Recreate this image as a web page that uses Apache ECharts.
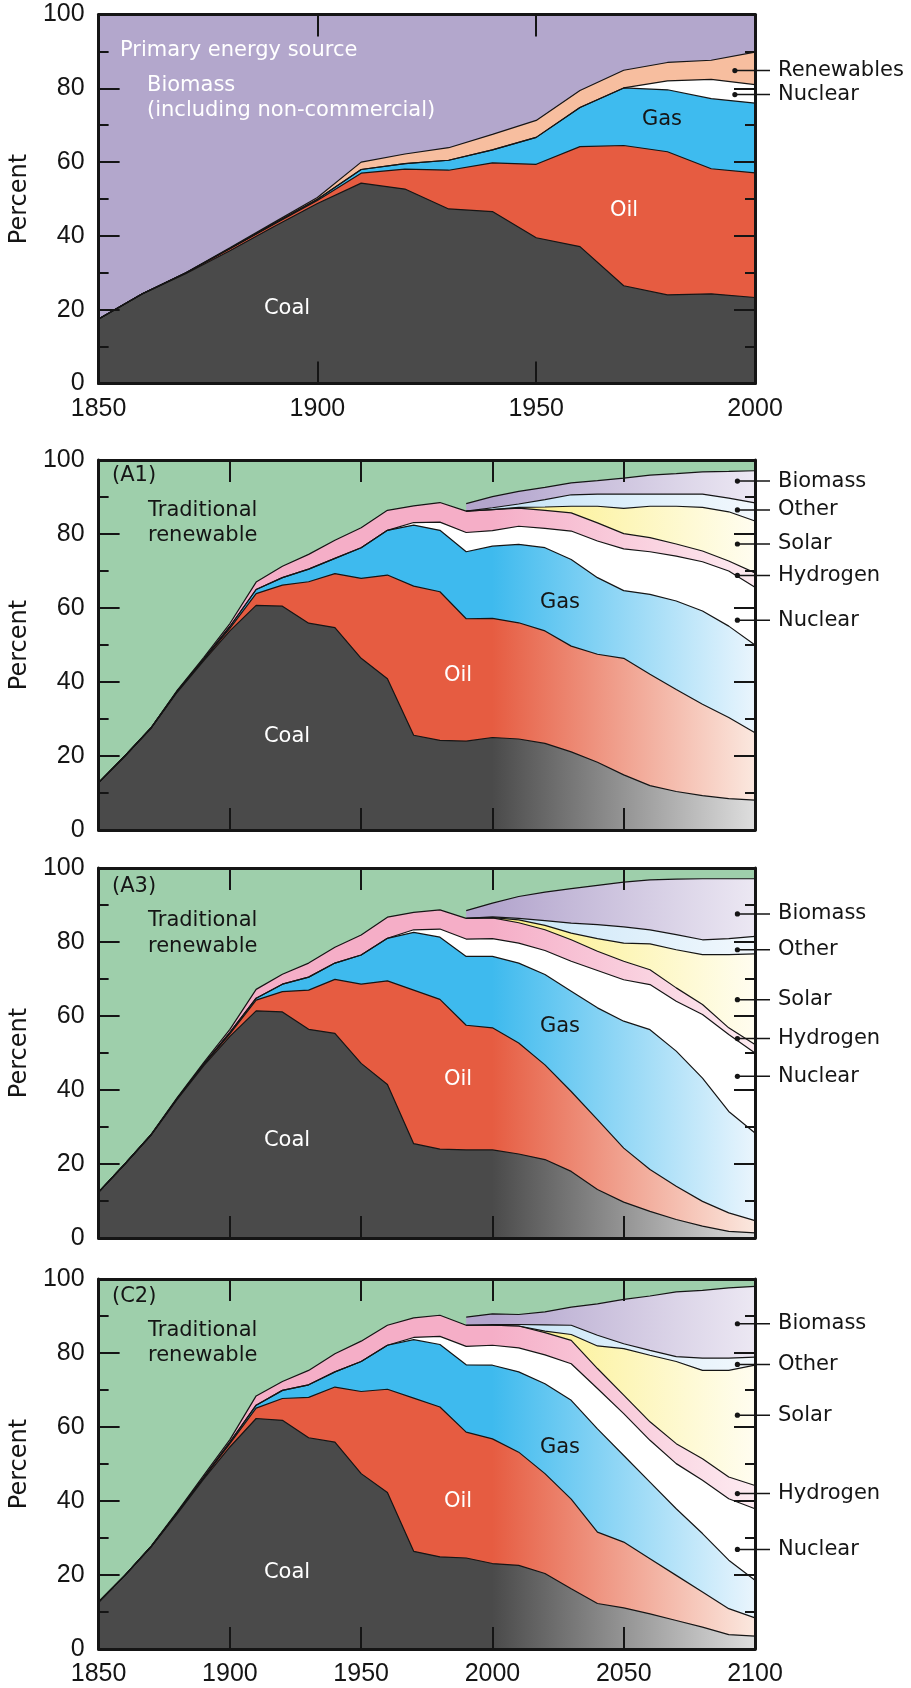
<!DOCTYPE html>
<html>
<head>
<meta charset="utf-8">
<script src="https://cdn.jsdelivr.net/npm/echarts@6/dist/echarts.min.js"></script>
<style>
html,body{margin:0;padding:0;background:#fff;}
#chart{width:911px;height:1688px;}
</style>
</head>
<body>
<div id="chart"></div>
<script>
// ---- panel 1: historical shares 1850-2000 (percent of primary energy) ----
var p1Years = [1850,1860,1870,1880,1890,1900,1910,1920,1930,1940,1950,1960,1970,1980,1990,2000];
var p1Coal = [17.5,24.3,29.8,36.0,42.5,48.8,54.3,52.7,47.3,46.6,39.5,37.1,26.5,24.0,24.3,23.3];
var p1Oil = [0,0,0.2,0.5,0.6,0.8,2.7,5.4,10.5,13.2,19.9,27.1,38.0,38.8,33.9,33.8];
var p1Gas = [0,0,0,0.1,0.2,0.3,1.0,1.5,2.7,3.5,7.3,10.6,15.6,16.8,19.0,18.9];
var p1Nuclear = [0,0,0,0,0,0,0,0,0,0,0,0,0,2.4,5.2,5.0];
var p1Renewables = [0,0,0.1,0.2,0.3,0.5,2.0,2.6,3.4,4.2,4.6,4.6,4.8,5.0,5.2,8.8];
// biomass is the remainder up to 100

// ---- scenario panels 1850-2100 ----
var scnYears = [1850,1860,1870,1880,1890,1900,1910,1920,1930,1940,1950,1960,1970,1980,1990,
                2000,2010,2020,2030,2040,2050,2060,2070,2080,2090,2100];
var N = null;

var a1Coal = [12.8,20.0,27.5,37.3,45.7,53.8,60.7,60.5,55.9,54.7,46.4,40.9,25.6,24.2,24.0,25.0,24.6,23.4,21.1,18.3,14.9,12.0,10.4,9.3,8.5,8.1];
var a1Oil = [0,0,0.1,0.2,0.3,0.7,3.2,5.7,11.2,14.6,21.6,28.0,40.3,40.2,33.1,32.2,31.4,30.4,28.6,29.2,31.5,30.1,27.6,24.7,21.9,18.2];
var a1Gas = [0,0,0,0.1,0.2,0.5,1.1,2.0,3.4,4.1,8.3,12.1,16.5,16.6,18.1,19.5,21.2,22.5,23.4,20.7,18.3,21.6,23.9,25.2,24.7,23.7];
var a1Nuclear = [0,0,0,0,0,0,0,0,0,0,0,0,0.7,2.2,5.2,4.2,4.9,5.2,7.7,9.9,11.3,11.5,12.1,13.3,14.9,15.6];
var a1Hydrogen = [0,0,0.1,0.2,0.4,0.8,2.0,3.1,4.0,4.9,5.4,5.4,4.5,5.3,5.8,5.7,4.9,4.9,4.9,4.9,4.1,3.8,3.3,2.9,2.7,3.9];
var a1Solar = [N,N,N,N,N,N,N,N,N,N,N,N,N,N,0,0,0.2,0.9,1.8,4.5,6.8,8.5,10.2,11.8,13.3,14.0];
var a1Other = [N,N,N,N,N,N,N,N,N,N,N,N,N,N,0,0.5,0.9,2.0,3.1,3.3,3.9,3.3,3.3,3.6,3.7,4.9];
var a1Biomass = [N,N,N,N,N,N,N,N,N,N,N,N,N,N,2.0,3.0,3.4,3.3,3.2,3.6,4.3,5.1,5.5,6.0,7.2,8.7];

var a3Coal = [12.4,20.0,27.8,37.5,46.5,54.5,61.4,61.1,56.4,55.3,47.2,41.5,25.5,24.0,23.8,23.8,22.7,21.2,18.0,13.1,9.7,7.2,5.0,3.2,1.8,1.4];
var a3Oil = [0,0,0.1,0.2,0.3,0.7,2.9,5.5,10.6,14.6,21.4,28.0,41.5,40.5,33.7,33.0,30.0,25.6,21.6,18.9,14.6,11.3,9.0,6.7,5.0,3.3];
var a3Gas = [0,0,0,0.1,0.2,0.4,0.5,2.0,3.5,4.4,7.9,11.5,15.6,16.8,18.6,19.3,21.6,24.4,27.1,30.2,34.3,37.8,36.5,33.3,27.4,23.7];
var a3Nuclear = [0,0,0,0,0,0,0,0,0,0,0,0,0.7,2.2,4.7,4.8,5.4,6.5,8.1,10.1,11.2,12.2,13.5,17.2,20.8,21.6];
var a3Hydrogen = [0,0,0.1,0.2,0.4,0.8,2.4,2.7,3.8,4.3,5.4,5.7,4.7,5.2,5.6,5.6,5.5,5.6,5.8,5.2,5.0,4.0,3.6,2.7,1.8,2.3];
var a3Solar = [N,N,N,N,N,N,N,N,N,N,N,N,N,N,0,0.1,0.8,1.2,1.8,3.4,4.9,7.0,10.3,13.5,19.8,24.5];
var a3Other = [N,N,N,N,N,N,N,N,N,N,N,N,N,N,0,0.2,0.4,1.3,2.7,3.8,4.4,3.8,4.1,4.0,4.3,4.7];
var a3Biomass = [N,N,N,N,N,N,N,N,N,N,N,N,N,N,2.1,3.7,5.9,7.7,9.3,10.6,12.1,13.5,15.0,16.5,16.2,15.6];

var c2Coal = [12.7,19.9,27.6,36.6,45.9,54.6,62.3,61.8,57.1,55.9,47.4,42.3,26.4,24.9,24.6,23.1,22.6,20.4,16.3,12.3,11.1,9.5,7.7,5.9,3.9,3.5];
var c2Oil = [0,0,0.1,0.2,0.3,0.9,2.8,5.9,10.9,14.9,22.2,27.9,41.4,40.5,34.0,33.7,30.6,27.0,24.2,19.3,17.8,14.9,12.2,9.5,7.0,4.9];
var c2Gas = [0,0,0,0.1,0.2,0.4,0.8,2.2,3.4,4.1,8.1,11.9,15.8,16.9,18.2,19.9,21.7,24.3,26.7,27.9,23.4,20.7,18.0,15.8,13.1,10.2];
var c2Nuclear = [0,0,0,0,0,0,0,0,0,0,0,0,0.6,2.2,5.0,5.4,6.5,7.8,9.9,10.9,11.3,11.3,12.2,14.4,16.6,19.3];
var c2Hydrogen = [0,0,0.1,0.3,0.5,0.7,2.5,2.4,3.9,4.9,5.5,5.4,5.3,5.7,5.7,5.4,5.9,6.0,6.3,5.4,5.0,5.0,5.4,5.8,5.9,6.3];
var c2Solar = [N,N,N,N,N,N,N,N,N,N,N,N,N,N,0,0,0,0.4,1.6,6.1,12.6,18.0,22.2,23.9,28.8,32.5];
var c2Other = [N,N,N,N,N,N,N,N,N,N,N,N,N,N,0,0.2,0.4,1.7,2.5,2.9,1.3,1.3,1.3,3.3,3.3,2.2];
var c2Biomass = [N,N,N,N,N,N,N,N,N,N,N,N,N,N,2.2,2.9,2.7,3.5,4.9,8.5,12.0,14.7,17.5,18.3,19.0,19.1];
// traditional renewable is the remainder up to 100

// ---- right-hand pointer labels (year, percent of the dot) ----
var p1LabelNames = ['Renewables', 'Nuclear'];
var p1LabelYear = 1995.4;
var p1LabelAt = [84.8, 78.3];
var scnLabelNames = ['Biomass', 'Other', 'Solar', 'Hydrogen', 'Nuclear'];
var scnLabelYear = 2093.3;
var a1LabelAt = [94.3, 86.5, 77.3, 68.8, 56.7];
var a3LabelAt = [87.6, 77.9, 64.4, 53.9, 43.7];
var c2LabelAt = [87.9, 76.9, 63.2, 42.0, 26.9];

var GRID_LEFT = 98, GRID_W = 657;
var X2000 = GRID_LEFT + GRID_W * (2000 - 1850) / 250;
var X2100 = GRID_LEFT + GRID_W;
var INK = '#151515';
var TEXT_FONT = '"DejaVu Sans", Verdana, sans-serif';
var TICK_FONT = '"Liberation Sans", Arial, sans-serif';

var panels = [
    {top: 14.5, height: 369, maxYear: 2000, bg: '#b3a7cc', xLabels: true},
    {top: 460, height: 370, maxYear: 2100, bg: '#9ecfab', xLabels: false},
    {top: 868, height: 370, maxYear: 2100, bg: '#9ecfab', xLabels: false},
    {top: 1279, height: 370, maxYear: 2100, bg: '#9ecfab', xLabels: true}
];

function fade(c0, c1) {
    return {type: 'linear', x: X2000, y: 0, x2: X2100, y2: 0, global: true,
        colorStops: [{offset: 0, color: c0}, {offset: 1, color: c1}]};
}

// stack the bands bottom-up, then draw them top-down so each one paints over the one above
function stackedBands(gi, years, layers) {
    var base = years.map(function () { return 0; });
    var built = layers.map(function (l) {
        var tops = l.vals.map(function (v, i) {
            if (v == null) return '-';
            base[i] = base[i] + v;
            return base[i];
        });
        return {
            name: l.name, type: 'line', xAxisIndex: gi * 2, yAxisIndex: gi * 2,
            data: years.map(function (y, i) { return [y, tops[i]]; }),
            symbol: 'none', showSymbol: false, silent: true,
            lineStyle: {color: INK, width: 1.2},
            areaStyle: {color: l.color, opacity: 1, origin: 'start'},
            z: 2
        };
    });
    return built.reverse();
}

function pointers(gi, year, vals, names) {
    return {
        type: 'custom', xAxisIndex: gi * 2, yAxisIndex: gi * 2, silent: true, clip: false, z: 20,
        data: vals.map(function (v) { return [year, v]; }),
        renderItem: function (params, api) {
            var p = api.coord([api.value(0), api.value(1)]);
            var xEnd = params.coordSys.x + params.coordSys.width + 15;
            return {type: 'group', children: [
                {type: 'line', shape: {x1: p[0], y1: p[1], x2: xEnd, y2: p[1]},
                    style: {stroke: INK, lineWidth: 1.5}},
                {type: 'circle', shape: {cx: p[0], cy: p[1], r: 2.6}, style: {fill: INK}},
                {type: 'text', x: xEnd + 8, y: p[1],
                    style: {text: names[params.dataIndex], fill: INK, fontSize: 21,
                        fontFamily: TEXT_FONT, align: 'left', verticalAlign: 'middle'}}
            ]};
        }
    };
}

function scenario(gi, d) {
    return stackedBands(gi, scnYears, [
        {name: 'Coal', vals: d.coal, color: fade('#4a4a4a', '#dedede')},
        {name: 'Oil', vals: d.oil, color: fade('#e65c41', '#fbe8df')},
        {name: 'Gas', vals: d.gas, color: fade('#3ebaee', '#eaf5fd')},
        {name: 'Nuclear', vals: d.nuclear, color: '#ffffff'},
        {name: 'Hydrogen', vals: d.hydrogen, color: fade('#f5aec7', '#fdebf1')},
        {name: 'Solar', vals: d.solar, color: fade('#fbee80', '#fffdf0')},
        {name: 'Other', vals: d.other, color: fade('#c6e4f7', '#f2f8fd')},
        {name: 'Biomass', vals: d.biomass, color: fade('#b3a5cd', '#ece8f3')}
    ]);
}

var grids = [], xAxes = [], yAxes = [];
panels.forEach(function (p, i) {
    grids.push({left: GRID_LEFT, top: p.top, width: GRID_W, height: p.height,
        show: true, backgroundColor: p.bg, borderWidth: 0});
    ['bottom', 'top'].forEach(function (pos) {
        xAxes.push({
            gridIndex: i, type: 'value', position: pos, min: 1850, max: p.maxYear, interval: 50, z: 10,
            axisLine: {show: true, onZero: false, lineStyle: {color: INK, width: 3}},
            axisTick: {show: true, inside: true, length: 22, lineStyle: {color: INK, width: 2}},
            axisLabel: {show: pos === 'bottom' && p.xLabels, margin: 13, fontSize: 25,
                color: INK, fontFamily: TICK_FONT, formatter: function (v) { return String(v); }},
            splitLine: {show: false}
        });
    });
    ['left', 'right'].forEach(function (pos) {
        yAxes.push({
            gridIndex: i, type: 'value', position: pos, min: 0, max: 100, interval: 20, z: 10,
            name: pos === 'left' ? 'Percent' : '', nameLocation: 'middle', nameGap: 66,
            nameTextStyle: {fontSize: 24, color: INK, fontFamily: TEXT_FONT},
            axisLine: {show: true, lineStyle: {color: INK, width: 3}},
            axisTick: {show: true, inside: true, length: 21, lineStyle: {color: INK, width: 2}},
            minorTick: {show: true, splitNumber: 2, length: 10, lineStyle: {color: INK, width: 2}},
            axisLabel: {show: pos === 'left', margin: 14, fontSize: 25, color: INK,
                fontFamily: TICK_FONT, showMinLabel: true, showMaxLabel: true},
            splitLine: {show: false}, minorSplitLine: {show: false}
        });
    });
});

var series = stackedBands(0, p1Years, [
    {name: 'Coal', vals: p1Coal, color: '#4a4a4a'},
    {name: 'Oil', vals: p1Oil, color: '#e65c41'},
    {name: 'Gas', vals: p1Gas, color: '#3ebbef'},
    {name: 'Nuclear', vals: p1Nuclear, color: '#ffffff'},
    {name: 'Renewables', vals: p1Renewables, color: '#f7be9f'}
]);
series = series.concat(
    [pointers(0, p1LabelYear, p1LabelAt, p1LabelNames)],
    scenario(1, {coal: a1Coal, oil: a1Oil, gas: a1Gas, nuclear: a1Nuclear, hydrogen: a1Hydrogen,
        solar: a1Solar, other: a1Other, biomass: a1Biomass}),
    [pointers(1, scnLabelYear, a1LabelAt, scnLabelNames)],
    scenario(2, {coal: a3Coal, oil: a3Oil, gas: a3Gas, nuclear: a3Nuclear, hydrogen: a3Hydrogen,
        solar: a3Solar, other: a3Other, biomass: a3Biomass}),
    [pointers(2, scnLabelYear, a3LabelAt, scnLabelNames)],
    scenario(3, {coal: c2Coal, oil: c2Oil, gas: c2Gas, nuclear: c2Nuclear, hydrogen: c2Hydrogen,
        solar: c2Solar, other: c2Other, biomass: c2Biomass}),
    [pointers(3, scnLabelYear, c2LabelAt, scnLabelNames)]
);

// in-plot captions (pixel layout)
function note(text, x, y, color, align) {
    return {type: 'text', x: x, y: y, z: 100, silent: true,
        style: {text: text, fill: color, fontSize: 21, fontFamily: TEXT_FONT,
            align: align || 'center', verticalAlign: 'middle'}};
}
var WHITE = '#ffffff';
var graphics = [
    note('Primary energy source', 120, 51, WHITE, 'left'),
    note('Biomass', 147, 86, WHITE, 'left'),
    note('(including non-commercial)', 147, 111, WHITE, 'left'),
    note('Coal', 287, 309, WHITE),
    note('Oil', 624, 211, WHITE),
    note('Gas', 662, 120, INK)
];
[['(A1)', 460, [15.7, 51, 76, 276.7, 215.7, 142.7]],
 ['(A3)', 868, [18.7, 53, 79, 272.5, 211.7, 159]],
 ['(C2)', 1279, [17.7, 52, 77, 293.7, 222.7, 168.7]]].forEach(function (c) {
    var t = c[1], o = c[2];
    graphics.push(
        note(c[0], 112, t + o[0], INK, 'left'),
        note('Traditional', 148, t + o[1], INK, 'left'),
        note('renewable', 148, t + o[2], INK, 'left'),
        note('Coal', 287, t + o[3], WHITE),
        note('Oil', 458, t + o[4], WHITE),
        note('Gas', 560, t + o[5], INK)
    );
});

var chart = echarts.init(document.getElementById('chart'));
chart.setOption({
    animation: false,
    backgroundColor: '#ffffff',
    grid: grids,
    xAxis: xAxes,
    yAxis: yAxes,
    series: series,
    graphic: graphics
});
</script>
</body>
</html>
